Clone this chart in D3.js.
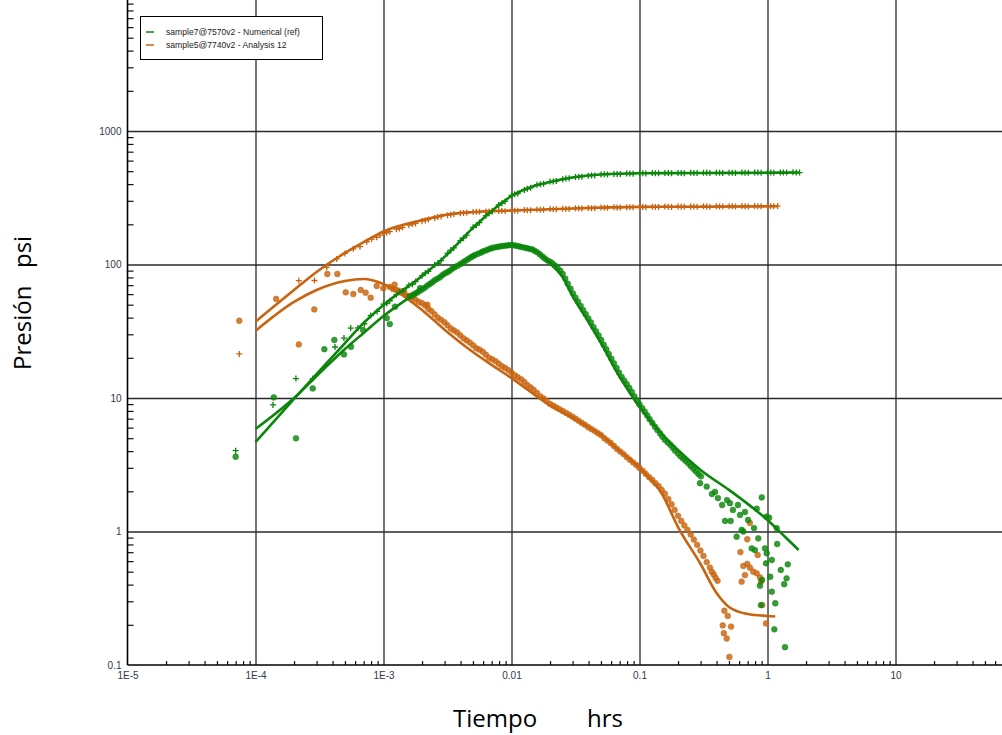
<!DOCTYPE html>
<html><head><meta charset="utf-8">
<script src="https://cdn.jsdelivr.net/npm/d3@7"></script>
<style>body{margin:0;background:#fff}svg{display:block}</style>
</head><body>
<svg id="c" width="1002" height="735"></svg>
<script>
// ---------- tick labels ----------
const xTickValues = [1e-5, 1e-4, 1e-3, 0.01, 0.1, 1, 10];
const xTickLabels = ["1E-5", "1E-4", "1E-3", "0.01", "0.1", "1", "10"];
const yTickValues = [0.1, 1, 10, 100, 1000];
const yTickLabels = ["0.1", "1", "10", "100", "1000"];
const seriesNames = ["sample7@7570v2 - Numerical (ref)", "sample5@7740v2 - Analysis 12"];
const seriesColors = ["#0b860b", "#c8640f"];
const xTitle = ["Tiempo", "hrs"];
const yTitle = ["Presión", "psi"];

// ---------- green (sample7) ----------
const greenPressModelT = [1e-4, 2e-4, 3e-4, 5e-4, 7e-4, 1e-3, 2e-3, 3e-3, 5e-3, 7e-3, 0.01, 0.015, 0.02, 0.03, 0.05, 0.1, 0.3, 1, 1.75];
const greenPressModelP = [4.68, 9.84, 15.1, 25.8, 36.5, 49.8, 82, 114, 188, 252, 326, 387, 415, 449, 472, 482, 485, 487, 489];
const greenDerivModelT = [1e-4, 2e-4, 3e-4, 5e-4, 7e-4, 1e-3, 2e-3, 3e-3, 5e-3, 7e-3, 0.01, 0.015, 0.02, 0.025, 0.03, 0.04, 0.05, 0.07, 0.1, 0.15, 0.2, 0.3, 0.5, 0.7, 1, 1.4, 1.75];
const greenDerivModelP = [5.86, 10.0, 14.6, 23.3, 30.7, 41.1, 65.5, 84.9, 116, 133, 140, 128, 102, 81, 58, 37.1, 25.8, 14.4, 8.56, 5.37, 4.08, 2.89, 2.05, 1.61, 1.22, 0.893, 0.727];
const greenPressData = [
  [7.0e-5, 4.03], [1.37e-4, 8.87], [2.07e-4, 13.97], [2.8e-4, 13.97], [4.18e-4, 24.1], [4.91e-4, 28.1], [5.54e-4, 33.4],
  [6.31e-4, 33.5], [7.08e-4, 36], [7.94e-4, 41.5], [8.91e-4, 44.5], [1e-3, 50.5], [1.12e-3, 53.5], [1.26e-3, 59.5], [1.41e-3, 63],
  [1.58e-3, 70], [1.78e-3, 74.5], [2.0e-3, 82.5], [2.24e-3, 89], [2.51e-3, 99.5], [2.82e-3, 107], [3.16e-3, 121], [3.55e-3, 133],
  [3.98e-3, 151], [4.47e-3, 166], [5.01e-3, 190], [5.62e-3, 206], [6.31e-3, 232], [7.08e-3, 251], [7.94e-3, 279], [8.91e-3, 297],
  [0.01, 329], [0.0112, 340], [0.0126, 362], [0.0141, 375], [0.0158, 396], [0.0178, 402], [0.02, 418], [0.0224, 422], [0.0251, 436],
  [0.0282, 442], [0.0316, 453], [0.0355, 455], [0.0398, 463], [0.0447, 465], [0.0501, 473], [0.0562, 472], [0.0631, 477], [0.0708, 476],
  [0.0794, 480], [0.0891, 478], [0.1, 483], [0.112, 481], [0.126, 484], [0.141, 482], [0.158, 485], [0.178, 482], [0.2, 485], [0.224, 483],
  [0.251, 486], [0.282, 484], [0.316, 486], [0.355, 484], [0.398, 487], [0.447, 485], [0.501, 487], [0.562, 485], [0.631, 488], [0.708, 486],
  [0.794, 488], [0.891, 487], [1.0, 489], [1.12, 487], [1.26, 489], [1.41, 488], [1.58, 490], [1.78, 488],
  [0.00106, 51], [0.00133, 62], [0.00168, 71], [0.00212, 86.5], [0.00266, 102], [0.00335, 128], [0.00422, 158], [0.00531, 197],
  [0.00668, 242], [0.00841, 288], [0.0106, 336], [0.0133, 369], [0.0168, 399], [0.0212, 419], [0.0266, 440], [0.0335, 454],
  [0.0422, 464], [0.0531, 474], [0.0668, 476], [0.0841, 480], [0.106, 482], [0.133, 483], [0.168, 484], [0.212, 484], [0.266, 485],
  [0.335, 486], [0.422, 486], [0.531, 486], [0.668, 487], [0.841, 488], [1.06, 488], [1.33, 488], [1.68, 489]
];
const greenDerivData = [
  [7.0e-5, 3.63], [1.39e-4, 10.1], [2.07e-4, 4.99], [2.8e-4, 11.8], [3.45e-4, 23.2], [4.13e-4, 27.2], [4.91e-4, 21.2], [5.57e-4, 24.2],
  [6.92e-4, 32.3], [1.06e-3, 39.7], [1.12e-3, 35.8], [1.23e-3, 48.3], [1.93e-3, 66.4],
  [0.00158, 57], [0.00174, 60], [0.0019, 63], [0.0021, 67], [0.0023, 71.5], [0.0025, 76], [0.00275, 80], [0.003, 85.5], [0.0033, 90],
  [0.0036, 95.5], [0.004, 101], [0.0044, 107], [0.0048, 113], [0.0052, 118], [0.0058, 123], [0.0063, 127.5], [0.0069, 132], [0.0076, 135],
  [0.0083, 137], [0.0091, 138.5], [0.01, 140], [0.011, 138], [0.012, 135], [0.0132, 132.5], [0.0145, 130], [0.0158, 124], [0.0174, 115],
  [0.019, 107.5], [0.0209, 102], [0.0229, 94], [0.0251, 85.1], [0.0275, 71.9], [0.0302, 60.8], [0.0331, 52.7], [0.0363, 45.6], [0.0398, 39.5],
  [0.0437, 34.0], [0.0479, 29.4], [0.0525, 25.1], [0.0575, 21.4], [0.0631, 18.2], [0.0692, 15.5], [0.0759, 13.5], [0.0832, 11.9],
  [0.0912, 10.3], [0.1, 8.97], [0.11, 7.89], [0.12, 6.93], [0.132, 6.10], [0.145, 5.42], [0.158, 4.86], [0.174, 4.46], [0.19, 4.03],
  [0.209, 3.66], [0.229, 3.39], [0.251, 3.10], [0.275, 2.83],
  [0.00166, 58.5], [0.00182, 61.5], [0.002, 65], [0.0022, 69.5], [0.0024, 73.5], [0.00262, 78], [0.00287, 83], [0.00315, 87.5],
  [0.00345, 93], [0.0038, 98], [0.0042, 104], [0.0046, 110], [0.005, 115.5], [0.0055, 120.5], [0.006, 125.5], [0.0066, 130],
  [0.0072, 133.5], [0.0079, 136], [0.0087, 138], [0.0095, 139.5], [0.0105, 139], [0.0115, 136.5], [0.0126, 134], [0.0138, 131],
  [0.0151, 127], [0.0166, 119.5], [0.0182, 111], [0.02, 105], [0.0219, 98], [0.024, 90], [0.0263, 78.5], [0.0289, 66], [0.0316, 56.5],
  [0.0347, 49], [0.038, 42.5], [0.0417, 36.8], [0.0458, 31.6], [0.0502, 27.2], [0.055, 23.2], [0.0603, 19.7], [0.0661, 16.8],
  [0.0725, 14.4], [0.0795, 12.7], [0.087, 11.1], [0.0955, 9.6], [0.105, 8.4], [0.115, 7.4], [0.126, 6.5], [0.138, 5.75], [0.151, 5.13],
  [0.166, 4.65], [0.182, 4.24], [0.2, 3.84], [0.219, 3.52], [0.24, 3.24], [0.263, 2.96], [0.288, 2.7],
  [0.297, 2.30], [0.302, 2.59], [0.335, 2.17], [0.368, 1.91], [0.389, 1.98],
  [0.41, 1.78], [0.442, 1.58], [0.483, 1.72], [0.509, 1.63], [0.537, 1.45], [0.588, 1.58], [0.61, 1.33], [0.902, 1.80], [0.824, 1.48],
  [0.466, 1.20], [0.515, 1.20], [0.574, 0.914], [0.628, 1.03], [0.753, 0.748], [0.798, 0.726], [0.847, 0.889], [0.955, 0.748],
  [0.986, 0.687], [0.973, 0.578], [1.08, 0.612], [1.19, 0.806], [1.05, 0.458], [1.27, 0.515], [1.44, 0.568], [1.41, 0.446],
  [1.35, 0.403], [1.08, 0.354], [1.15, 0.290], [0.873, 0.393], [0.889, 0.281], [1.13, 0.185], [1.37, 0.136], [1.18, 1.06],
  [0.98, 1.29], [1.03, 1.27], [0.785, 1.06], [0.667, 1.40], [0.705, 1.22], [0.906, 0.434], [0.647, 1.0]
];

// ---------- orange (sample5) ----------
const orangePressModelT = [1e-4, 2e-4, 3e-4, 5e-4, 7e-4, 1e-3, 2e-3, 3e-3, 5e-3, 0.01, 0.03, 0.1, 0.3, 1.2];
const orangePressModelP = [37.3, 64.4, 87.9, 122, 147, 177, 215, 235, 247, 254, 263, 270, 271, 273];
const orangeDerivModelT = [1e-4, 2e-4, 3e-4, 5e-4, 7e-4, 1e-3, 2e-3, 3e-3, 5e-3, 7e-3, 0.01, 0.02, 0.03, 0.05, 0.07, 0.1, 0.15, 0.2, 0.3, 0.4, 0.5, 0.7, 1, 1.15];
const orangeDerivModelP = [31.8, 52.4, 64.4, 75.2, 77.9, 71.5, 45.6, 32.5, 22.1, 17.7, 14.1, 8.8, 7.1, 5.28, 4.01, 2.99, 1.91, 1.08, 0.571, 0.346, 0.272, 0.241, 0.233, 0.231];
const orangePressData = [
  [7.47e-5, 21.4], [2.18e-4, 75.7], [2.89e-4, 75.9], [3.6e-4, 95.1], [4.31e-4, 110], [5.0e-4, 121], [5.81e-4, 131], [6.55e-4, 136],
  [7.39e-4, 148], [8.09e-4, 155], [8.85e-4, 160], [1e-3, 171], [1.12e-3, 176], [1.26e-3, 184], [1.41e-3, 190], [1.58e-3, 197],
  [1.78e-3, 203], [2.0e-3, 211], [2.24e-3, 217], [2.51e-3, 223], [2.82e-3, 229], [3.16e-3, 234], [3.55e-3, 239], [3.98e-3, 242],
  [4.47e-3, 244], [5.01e-3, 247], [5.62e-3, 248], [6.31e-3, 250], [7.08e-3, 249], [7.94e-3, 252], [8.91e-3, 251], [0.01, 254],
  [0.0112, 253], [0.0126, 256], [0.0141, 255], [0.0158, 258], [0.0178, 257], [0.02, 260], [0.0224, 259], [0.0251, 262], [0.0282, 261],
  [0.0316, 264], [0.0355, 263], [0.0398, 265], [0.0447, 264], [0.0501, 267], [0.0562, 266], [0.0631, 268], [0.0708, 267], [0.0794, 269],
  [0.0891, 268], [0.1, 271], [0.112, 269], [0.126, 271], [0.141, 270], [0.158, 272], [0.178, 270], [0.2, 272], [0.224, 271], [0.251, 272],
  [0.282, 271], [0.316, 273], [0.355, 271], [0.398, 273], [0.447, 272], [0.501, 273], [0.562, 272], [0.631, 274], [0.708, 272],
  [0.794, 274], [0.891, 273], [1.0, 274], [1.12, 273], [1.2, 274],
  [9.4e-4, 166], [1.06e-3, 173], [1.33e-3, 186], [1.68e-3, 201], [2.12e-3, 214], [2.66e-3, 227], [3.35e-3, 236], [4.22e-3, 243],
  [5.31e-3, 248], [6.68e-3, 250], [8.41e-3, 252], [0.0106, 253], [0.0133, 255], [0.0168, 257], [0.0212, 259], [0.0266, 261],
  [0.0335, 263], [0.0422, 264], [0.0531, 266], [0.0668, 267], [0.0841, 269], [0.106, 270], [0.133, 270], [0.168, 271], [0.212, 271],
  [0.266, 272], [0.335, 272], [0.422, 272], [0.531, 273], [0.668, 273], [0.841, 273], [1.06, 273]
];
const orangeDerivData = [
  [7.47e-5, 37.9], [1.45e-4, 55.2], [2.18e-4, 25.2], [2.88e-4, 46.1], [3.64e-4, 84.9], [4.36e-4, 84.9], [5.07e-4, 61.9], [5.81e-4, 60.1],
  [6.64e-4, 64.4], [7.26e-4, 61.5], [7.94e-4, 56.4], [8.85e-4, 69.0], [9.96e-4, 66.4],
  [0.00112, 67.9], [0.00126, 64.4], [0.00141, 61.2], [0.00158, 58.1], [0.00178, 54.6], [0.002, 51.3], [0.00224, 46.6], [0.00251, 42.3],
  [0.00282, 38.5], [0.00316, 35.1], [0.00355, 32.1], [0.00398, 29.5], [0.00447, 27.0], [0.00501, 24.8], [0.00562, 23.0], [0.00631, 21.1],
  [0.00708, 19.5], [0.00794, 18.1], [0.00891, 16.8], [0.01, 15.5], [0.0112, 14.3], [0.0126, 13.2], [0.0141, 12.0], [0.0158, 10.9],
  [0.0178, 9.91], [0.02, 9.04], [0.0224, 8.5], [0.0251, 8.0], [0.0282, 7.5], [0.0316, 7.0], [0.0355, 6.5], [0.0398, 6.05],
  [0.0447, 5.65], [0.0501, 5.27], [0.0562, 4.80], [0.0631, 4.37], [0.0708, 3.97], [0.0794, 3.61], [0.0891, 3.29], [0.1, 2.99],
  [0.112, 2.70], [0.126, 2.43], [0.141, 2.19], [0.158, 1.92], [0.178, 1.60], [0.2, 1.31], [0.224, 1.11], [0.251, 0.951], [0.282, 0.794],
  [0.316, 0.656], [0.355, 0.537], [0.38, 0.477], [0.407, 0.427],
  [0.00119, 65.5], [0.00133, 63.5], [0.00149, 59.0], [0.00168, 56.8], [0.00189, 52.5], [0.00212, 49.3], [0.00237, 44.8], [0.00266, 40.0],
  [0.00299, 37.0], [0.00335, 33.2], [0.00376, 31.0], [0.00422, 28.0], [0.00473, 26.0], [0.00531, 23.6], [0.00596, 22.2], [0.00668, 20.0],
  [0.0075, 18.9], [0.00841, 17.3], [0.00944, 16.2], [0.0106, 14.8], [0.0119, 13.8], [0.0133, 12.5], [0.0149, 11.5], [0.0168, 10.3],
  [0.0188, 9.5], [0.0212, 8.75], [0.0237, 8.25], [0.0266, 7.75], [0.0299, 7.25], [0.0335, 6.75], [0.0376, 6.3], [0.0422, 5.85],
  [0.0473, 5.45], [0.0531, 5.0], [0.0596, 4.6], [0.0668, 4.15], [0.075, 3.8], [0.0841, 3.45], [0.0944, 3.15], [0.106, 2.85],
  [0.119, 2.55], [0.133, 2.3], [0.149, 2.05], [0.168, 1.75], [0.188, 1.45], [0.212, 1.2], [0.237, 1.03], [0.266, 0.87], [0.299, 0.72],
  [0.335, 0.59], [0.367, 0.50], [0.393, 0.45],
  [0.00122, 70.5], [0.00145, 63.5], [0.0017, 59], [0.0022, 50],
  [0.729, 1.16], [0.695, 0.875], [0.614, 0.701], [0.838, 0.667], [0.647, 0.552], [0.695, 0.571], [0.729, 0.536], [0.775, 0.500],
  [0.824, 0.486], [0.873, 0.454], [0.667, 0.472], [0.628, 0.421], [0.889, 0.421], [0.910, 0.281], [0.973, 0.205], [0.46, 0.255],
  [0.489, 0.233], [0.447, 0.198], [0.519, 0.194], [0.456, 0.173], [0.48, 0.158], [0.504, 0.115]
];

// ---------- drawing ----------
const W = 1002, H = 735;
const svg = d3.select("#c");
const x = d3.scaleLog().domain([1e-5, 100]).range([127.5, 1023.5]);
const y = d3.scaleLog().domain([0.1, 10000]).range([665, -2.5]);
const font = "'Liberation Sans', Arial, sans-serif";

const minorX = [], minorY = [];
for (let e = -5; e <= 1; e++) for (let k = 2; k <= 9; k++) minorX.push(k * Math.pow(10, e));
for (let e = -1; e <= 3; e++) for (let k = 2; k <= 9; k++) minorY.push(k * Math.pow(10, e));

// grid lines
const gx = svg.append("g").attr("transform", "translate(0,665)")
  .call(d3.axisBottom(x).tickValues([1e-4, 1e-3, 0.01, 0.1, 1, 10]).tickSize(-668).tickFormat(""));
const gy = svg.append("g").attr("transform", "translate(127.5,0)")
  .call(d3.axisLeft(y).tickValues([1, 10, 100, 1000]).tickSize(-(W - 127.5)).tickFormat(""));
[gx, gy].forEach(g => { g.select(".domain").remove(); g.selectAll("line").attr("stroke", "#2a2a2a").attr("stroke-width", 1.3); });

// minor ticks
const mx = svg.append("g").attr("transform", "translate(0,665)")
  .call(d3.axisBottom(x).tickValues(minorX).tickSize(-4).tickFormat(""));
const my = svg.append("g").attr("transform", "translate(127.5,0)")
  .call(d3.axisLeft(y).tickValues(minorY).tickSize(-6).tickFormat(""));
[mx, my].forEach(g => { g.select(".domain").remove(); g.selectAll("line").attr("stroke", "#111").attr("stroke-width", 1.2); });

// axes with labels
const ax = svg.append("g").attr("transform", "translate(0,665)")
  .call(d3.axisBottom(x).tickValues(xTickValues).tickSize(0).tickPadding(7).tickFormat((d, i) => xTickLabels[i]));
const ay = svg.append("g").attr("transform", "translate(127.5,0)")
  .call(d3.axisLeft(y).tickValues(yTickValues).tickSize(0).tickPadding(6).tickFormat((d, i) => yTickLabels[i]));
[ax, ay].forEach(g => {
  g.select(".domain").attr("stroke", "#000").attr("stroke-width", 1.6);
  g.selectAll("text").attr("font-family", font).attr("font-size", 10).attr("fill", "#33384a");
});
ay.select(".domain").attr("d", "M0,0V665");
ax.select(".domain").attr("d", "M127.5,0H1002");

// model lines + data
const plot = svg.append("g");
function modelLine(ts, ps, color) {
  const pts = ts.map((t, i) => [t, ps[i]]);
  plot.append("path").datum(pts)
    .attr("fill", "none").attr("stroke", color).attr("stroke-width", 2.6)
    .attr("d", d3.line().x(d => x(d[0])).y(d => y(d[1])).curve(d3.curveMonotoneX));
}
function crosses(data, color) {
  plot.append("g").selectAll("path").data(data).join("path")
    .attr("transform", d => `translate(${x(d[0])},${y(d[1])})`)
    .attr("d", "M-3,0H3M0,-3V3").attr("stroke", color).attr("stroke-width", 1.3).attr("fill", "none");
}
function dots(data, color) {
  plot.append("g").selectAll("circle").data(data).join("circle")
    .attr("cx", d => x(d[0])).attr("cy", d => y(d[1])).attr("r", 2.9)
    .attr("fill", color).attr("fill-opacity", 0.82).attr("stroke", color).attr("stroke-opacity", 0.6).attr("stroke-width", 0.8);
}
crosses(orangePressData, seriesColors[1]);
dots(orangeDerivData, seriesColors[1]);
crosses(greenPressData, seriesColors[0]);
dots(greenDerivData, seriesColors[0]);
modelLine(orangePressModelT, orangePressModelP, seriesColors[1]);
modelLine(orangeDerivModelT, orangeDerivModelP, seriesColors[1]);
modelLine(greenPressModelT, greenPressModelP, seriesColors[0]);
modelLine(greenDerivModelT, greenDerivModelP, seriesColors[0]);

// legend
const lg = svg.append("g");
lg.append("rect").attr("x", 140.5).attr("y", 16.5).attr("width", 182).attr("height", 43)
  .attr("fill", "#fff").attr("stroke", "#000").attr("stroke-width", 1);
seriesNames.forEach((n, i) => {
  const yy = 32 + i * 13;
  lg.append("line").attr("x1", 146).attr("x2", 154).attr("y1", yy).attr("y2", yy)
    .attr("stroke", seriesColors[i]).attr("stroke-width", 1.5);
  lg.append("text").attr("x", 166).attr("y", yy + 3).text(n)
    .attr("font-family", font).attr("font-size", 8.6).attr("fill", "#222");
});

// axis titles
const tf = "'Open Sans', 'Noto Sans', sans-serif";
svg.append("text").attr("x", 453).attr("y", 727).text(xTitle[0]).attr("font-family", tf).attr("font-size", 24).attr("fill", "#000");
svg.append("text").attr("x", 587).attr("y", 727).text(xTitle[1]).attr("font-family", tf).attr("font-size", 24).attr("fill", "#000");
svg.append("text").attr("transform", "translate(31,370) rotate(-90)").text(yTitle[0]).attr("font-family", tf).attr("font-size", 24).attr("fill", "#000");
svg.append("text").attr("transform", "translate(31,268) rotate(-90)").text(yTitle[1]).attr("font-family", tf).attr("font-size", 24).attr("fill", "#000");
</script>
</body></html>
